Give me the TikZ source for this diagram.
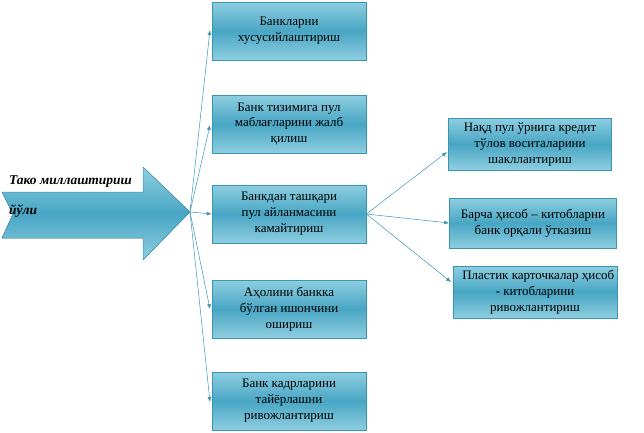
\documentclass[tikz,border=0pt]{standalone}
\usepackage{fontspec}
\setmainfont{Liberation Serif}
\usetikzlibrary{arrows.meta}
\definecolor{mid}{RGB}{72,166,196}
\definecolor{lite}{RGB}{142,206,224}
\definecolor{edge}{RGB}{58,148,180}
\begin{document}
\begin{tikzpicture}[x=1bp,y=-1bp,
  bx/.style={draw=edge, line width=0.6bp, top color=lite, bottom color=lite, middle color=mid, align=center, font=\fontsize{13}{16}\selectfont, inner sep=1bp},
  conn/.style={draw=edge, line width=0.5bp, -{Latex[length=5bp,width=4bp]}}]
\useasboundingbox (0,0) rectangle (644,432);
\fill[top color=lite, bottom color=lite, middle color=mid, draw=edge, line width=0.5bp]
  (2,192) -- (143,192) -- (143,167) -- (190,212) -- (143,260) -- (143,238) -- (2,238) -- (13,214) -- cycle;
\coordinate (tip) at (190,212);
\node[font=\bfseries\itshape\fontsize{13.5}{15}\selectfont, anchor=west, inner sep=0] (t1) at (9,182) {Тако миллаштириш};
\node[font=\bfseries\itshape\fontsize{13.5}{15}\selectfont, anchor=west, inner sep=0] (t2) at (9,211) {йўли};
\node[bx, minimum width=154bp, minimum height=58bp] (b1) at (289,31) {Банкларни\\хусусийлаштириш};
\node[bx, minimum width=154bp, minimum height=58bp] (b2) at (289,124) {Банк тизимига пул\\маблағларини жалб\\қилиш};
\node[bx, minimum width=154bp, minimum height=58bp] (b3) at (289,214) {Банкдан ташқари\\пул айланмасини\\камайтириш};
\node[bx, minimum width=154bp, minimum height=58bp] (b4) at (289,309) {Аҳолини банкка\\бўлган ишончини\\ошириш};
\node[bx, minimum width=154bp, minimum height=58bp] (b5) at (289,401) {Банк кадрларини\\тайёрлашни\\ривожлантириш};
\node[bx, minimum width=163bp, minimum height=52bp] (r1) at (530,144) {Нақд пул ўрнига кредит\\тўлов воситаларини\\шакллантириш};
\node[bx, minimum width=167bp, minimum height=50bp] (r2) at (533,223) {Барча ҳисоб – китобларни\\банк орқали ўтказиш};
\node[bx, minimum width=164bp, minimum height=52bp] (r3) at (535,292) {\ \ Пластик карточкалар ҳисоб\\- китобларини\\ривожлантириш};
\draw[conn] (tip) -- (210,30);
\draw[conn] (tip) -- (210,125);
\draw[conn] (tip) -- (b3.west);
\draw[conn] (tip) -- (210,309);
\draw[conn] (tip) -- (210,402);
\draw[conn] (b3.east) -- (447,152);
\draw[conn] (b3.east) -- (r2.west);
\draw[conn] (b3.east) -- (451,282);
\end{tikzpicture}
\end{document}
